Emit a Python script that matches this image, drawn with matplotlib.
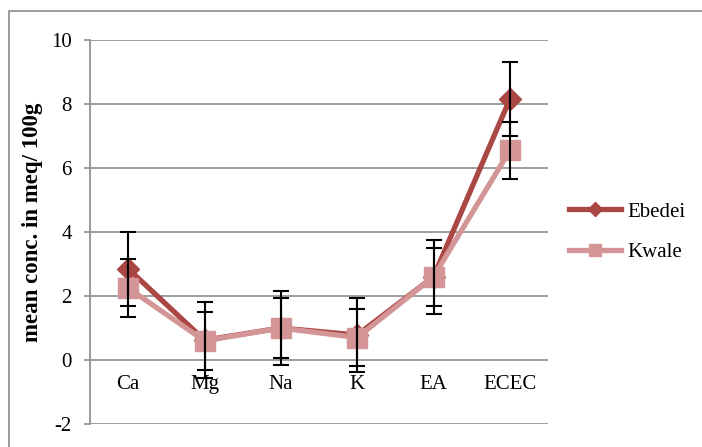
import matplotlib.pyplot as plt
from matplotlib.lines import Line2D
from matplotlib.patches import Rectangle
import numpy as np

# --- DATA ---
categories = ['Ca', 'Mg', 'Na', 'K', 'EA', 'ECEC']
ebedei = [2.85, 0.62, 1.0, 0.78, 2.6, 8.15]
ebedei_err = [1.15, 1.18, 1.15, 1.15, 1.15, 1.15]
kwale = [2.25, 0.6, 1.0, 0.7, 2.6, 6.55]
kwale_err = [0.9, 0.9, 0.95, 0.9, 0.9, 0.9]
yticks = [-2, 0, 2, 4, 6, 8, 10]

C_EBE = '#AA4643'
C_KWA = '#D39595'
GRID = '#8C8C8C'

plt.rcParams['font.family'] = ['Liberation Serif', 'DejaVu Serif']

fig = plt.figure(figsize=(7.02, 4.47), dpi=100)
ax = fig.add_axes([90 / 702, 1 - 424 / 447, 458 / 702, 384 / 447])

# chart area border
fig.patches.append(Rectangle((9 / 702, -0.1), 1.2, 1 - 11 / 447 + 0.1,
                             transform=fig.transFigure, fill=False,
                             edgecolor=GRID, linewidth=1.2))

x = np.arange(len(categories))

ax.plot(x, ebedei, color=C_EBE, linewidth=3.8, marker='D', markersize=11,
        markeredgecolor=C_EBE, zorder=3, solid_capstyle='round')
ax.plot(x, kwale, color=C_KWA, linewidth=3.8, marker='s', markersize=14,
        markeredgecolor=C_KWA, zorder=4, solid_capstyle='round')
ax.errorbar(x, ebedei, yerr=ebedei_err, fmt='none', ecolor='black',
            elinewidth=1.5, capsize=6, capthick=1.5, zorder=5)
ax.errorbar(x, kwale, yerr=kwale_err, fmt='none', ecolor='black',
            elinewidth=1.5, capsize=6, capthick=1.5, zorder=5)

ax.set_xlim(-0.5, len(categories) - 0.5)
ax.set_ylim(-2, 10)
ax.set_yticks(yticks)
ax.set_yticklabels([str(t) for t in yticks], fontsize=15)
ax.tick_params(axis='y', length=4, width=1.2, color=GRID, pad=9)
ax.set_xticks([])
ax.grid(axis='y', color=GRID, linewidth=1.2)
ax.set_axisbelow(True)
for s in ['top', 'right', 'bottom']:
    ax.spines[s].set_visible(False)
ax.spines['left'].set_color(GRID)
ax.spines['left'].set_linewidth(1.2)

for xi, c in zip(x, categories):
    ax.text(xi, -0.78, c, ha='center', va='center', fontsize=15)

ax.set_ylabel('mean conc. in meq/ 100g', fontsize=16.5, fontweight='bold',
              va='center')
ax.yaxis.set_label_coords(-57 / 458, 0.526)

handles = [Line2D([], [], color=C_EBE, linewidth=3.8, marker='D', markersize=7),
           Line2D([], [], color=C_KWA, linewidth=3.8, marker='s', markersize=9)]
fig.legend(handles, ['Ebedei', 'Kwale'], loc='center left',
           bbox_to_anchor=(550 / 702, 1 - 232 / 447), frameon=False,
           fontsize=15, handlelength=2.5, handletextpad=0.3,
           labelspacing=1.0)

fig.savefig('out.png', dpi=100)
